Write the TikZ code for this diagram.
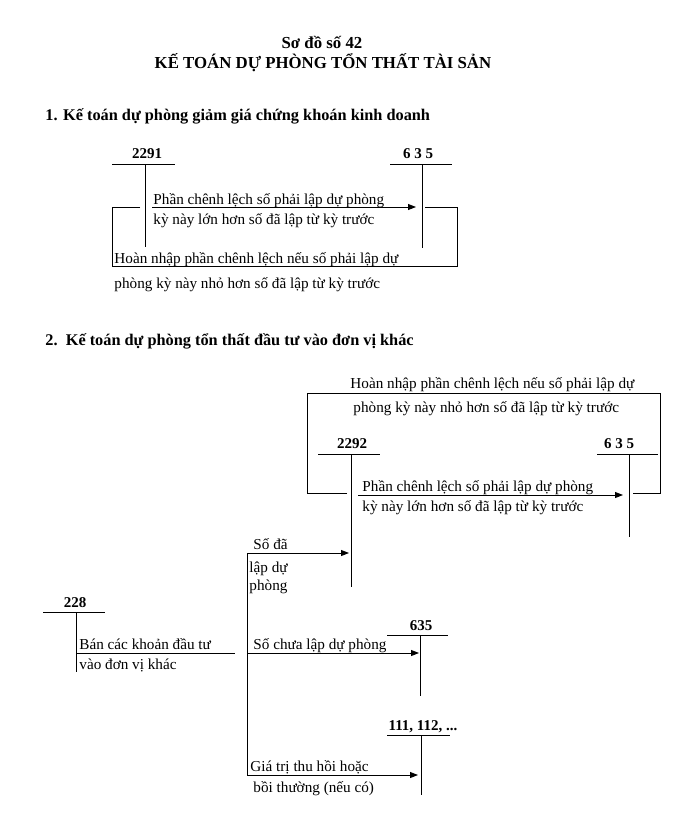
\documentclass[tikz,border=0pt]{standalone}
\usepackage{fontspec}
\setmainfont{Liberation Serif}
\usetikzlibrary{arrows.meta}
\begin{document}
\begin{tikzpicture}[x=1pt,y=-1pt, line width=0.9pt,
  txt/.style={anchor=base west, inner sep=0pt, font=\fontsize{15.2}{17}\selectfont},
  acct/.style={anchor=base, inner sep=0pt, font=\bfseries\fontsize{15}{17}\selectfont},
  head/.style={anchor=base west, inner sep=0pt, font=\bfseries\fontsize{16.3}{19}\selectfont},
  ttl/.style={anchor=base, inner sep=0pt, font=\bfseries\fontsize{16.8}{19}\selectfont},
  arr/.style={-{Triangle[length=8pt,width=6pt]}},
]
\useasboundingbox (0,0) rectangle (689,825);

% Title
\node[ttl] (title1) at (322,48) {Sơ đồ số 42};
\node[ttl] (title2) at (323,68) {KẾ TOÁN DỰ PHÒNG TỔN THẤT TÀI SẢN};

% ---------- Section 1 ----------
\node[head] (h1) at (45,120) {1. Kế toán dự phòng giảm giá chứng khoán kinh doanh};

\node[acct] (a2291) at (147,158) {2291};
\coordinate (a2291L) at (112,164); \coordinate (a2291R) at (175,164);
\coordinate (a2291T) at (145,164); \coordinate (a2291B) at (145,247);
\draw (a2291L) -- (a2291R); \draw (a2291T) -- (a2291B);

\node[acct] (a635a) at (418,158) {6 3 5};
\coordinate (a635aL) at (390,164); \coordinate (a635aR) at (452,164);
\coordinate (a635aT) at (422,164); \coordinate (a635aB) at (422,248);
\draw (a635aL) -- (a635aR); \draw (a635aT) -- (a635aB);

\coordinate (s1s) at (152,207); \coordinate (s1e) at (416,207);
\draw[arr] (s1s) -- (s1e);
\node[txt] (s1t1) at (153,204) {Phần chênh lệch số phải lập dự phòng};
\node[txt] (s1t2) at (153,224) {kỳ này lớn hơn số đã lập từ kỳ trước};

\coordinate (r1a) at (140,207); \coordinate (r1b) at (112,207);
\coordinate (r1c) at (112,266); \coordinate (r1d) at (457,266);
\coordinate (r1e) at (457,207); \coordinate (r1f) at (425,207);
\draw (r1a) -- (r1b) -- (r1c) -- (r1d) -- (r1e) -- (r1f);
\node[txt] (r1t1) at (114,263) {Hoàn nhập phần chênh lệch nếu số phải lập dự};
\node[txt] (r1t2) at (114,288) {phòng kỳ này nhỏ hơn số đã lập từ kỳ trước};

% ---------- Section 2 ----------
\node[head] (h2) at (45,345) {2.\ \ Kế toán dự phòng tổn thất đầu tư vào đơn vị khác};

% top loop
\coordinate (r2a) at (347,493); \coordinate (r2b) at (307,493);
\coordinate (r2c) at (307,393); \coordinate (r2d) at (660,393);
\coordinate (r2e) at (660,493); \coordinate (r2f) at (633,493);
\draw (r2a) -- (r2b) -- (r2c) -- (r2d) -- (r2e) -- (r2f);
\node[txt] (r2t1) at (350,388) {Hoàn nhập phần chênh lệch nếu số phải lập dự};
\node[txt] (r2t2) at (353,412) {phòng kỳ này nhỏ hơn số đã lập từ kỳ trước};

\node[acct] (a2292) at (352,448) {2292};
\coordinate (a2292L) at (318,454); \coordinate (a2292R) at (380,454);
\coordinate (a2292T) at (351,454); \coordinate (a2292B) at (351,587);
\draw (a2292L) -- (a2292R); \draw (a2292T) -- (a2292B);

\node[acct] (a635b) at (619,448) {6 3 5};
\coordinate (a635bL) at (597,454); \coordinate (a635bR) at (658,454);
\coordinate (a635bT) at (629,454); \coordinate (a635bB) at (629,537);
\draw (a635bL) -- (a635bR); \draw (a635bT) -- (a635bB);

\coordinate (s2s) at (358,495); \coordinate (s2e) at (623,495);
\draw[arr] (s2s) -- (s2e);
\node[txt] (s2t1) at (362,491) {Phần chênh lệch số phải lập dự phòng};
\node[txt] (s2t2) at (362,511) {kỳ này lớn hơn số đã lập từ kỳ trước};

% 228
\node[acct] (a228) at (75,607) {228};
\coordinate (a228L) at (43,612); \coordinate (a228R) at (105,612);
\coordinate (a228T) at (76,612); \coordinate (a228B) at (76,672);
\draw (a228L) -- (a228R); \draw (a228T) -- (a228B);
\coordinate (b1) at (76,653); \coordinate (b2) at (235,653);
\draw (b1) -- (b2);
\node[txt] (bt1) at (79,649) {Bán các khoản đầu tư};
\node[txt] (bt2) at (79,669) {vào đơn vị khác};

% trunk
\coordinate (trT) at (247,553); \coordinate (trB) at (247,775);
\draw (trT) -- (trB);

\coordinate (d1e) at (349,553);
\draw[arr] (trT) -- (d1e);
\node[txt] (d1t1) at (253,549) {Số đã};
\node[txt] (d1t2) at (249,572) {lập dự};
\node[txt] (d1t3) at (249,590) {phòng};

\coordinate (d2s) at (248,653); \coordinate (d2e) at (419,653);
\draw[arr] (d2s) -- (d2e);
\node[txt] (d2t1) at (253,649) {Số chưa lập dự phòng};

\node[acct] (a635c) at (421,630) {635};
\coordinate (a635cL) at (387,635); \coordinate (a635cR) at (448,635);
\coordinate (a635cT) at (420,635); \coordinate (a635cB) at (420,696);
\draw (a635cL) -- (a635cR); \draw (a635cT) -- (a635cB);

\node[acct] (a111) at (423,730) {111, 112, ...};
\coordinate (a111L) at (387,735); \coordinate (a111R) at (450,735);
\coordinate (a111T) at (421,735); \coordinate (a111B) at (421,795);
\draw (a111L) -- (a111R); \draw (a111T) -- (a111B);

\coordinate (d3e) at (418,775);
\draw[arr] (trB) -- (d3e);
\node[txt] (d3t1) at (250,771) {Giá trị thu hồi hoặc};
\node[txt] (d3t2) at (253,792) {bồi thường (nếu có)};
\end{tikzpicture}
\end{document}
